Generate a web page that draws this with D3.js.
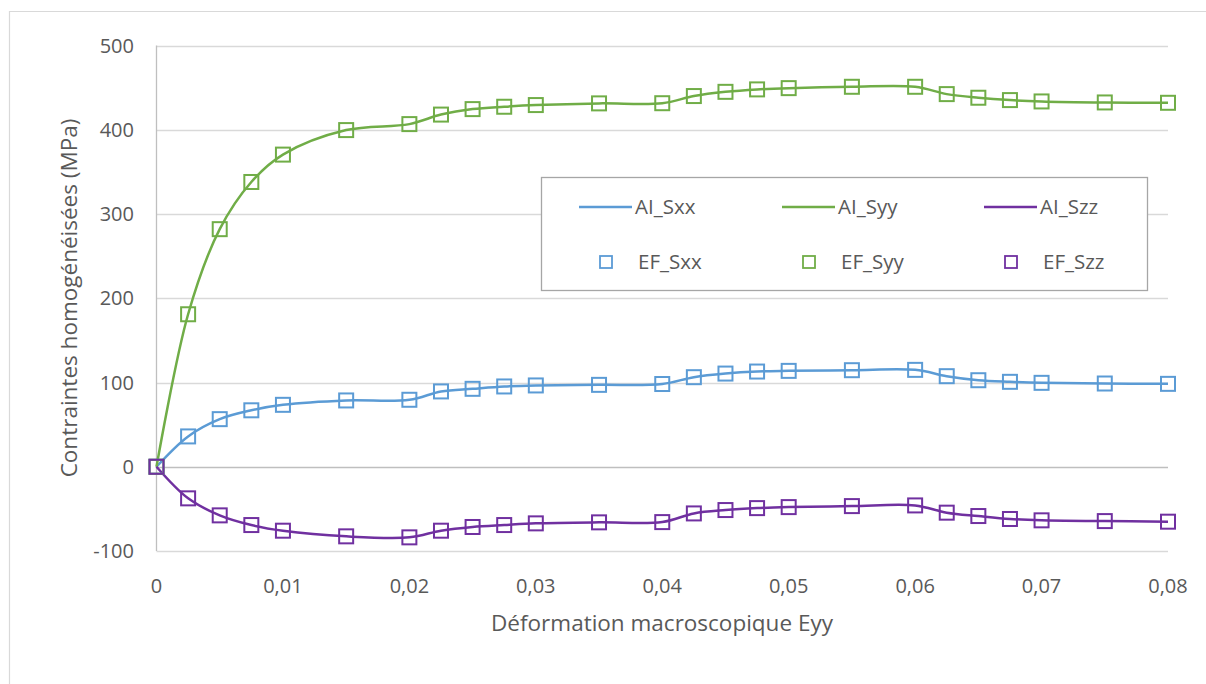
<!DOCTYPE html>
<html><head><meta charset="utf-8">
<script src="https://cdn.jsdelivr.net/npm/d3@7"></script>
<style>
html,body{margin:0;padding:0;background:#fff;}
text{font-family:"Open Sans","Lato",sans-serif;fill:#595959;}
</style></head>
<body><svg id="c" width="1206" height="684"></svg>
<script>
const strain = [0,0.0025,0.005,0.0075,0.01,0.015,0.02,0.0225,0.025,0.0275,0.03,0.035,0.04,0.0425,0.045,0.0475,0.05,0.055,0.06,0.0625,0.065,0.0675,0.07,0.075,0.08];
const Sxx = [0,36,56.5,67,73.5,78.7,79.5,89.4,92.5,95.3,96.5,97.2,98.2,106.3,110.6,113,113.8,114.6,115,107.5,102.7,100.8,99.6,98.8,98.4];
const Syy = [0,181,282,338,370.5,399.6,406.7,418,424.5,427.3,429.3,431.3,431.5,440,445,447.9,449.4,451,451,442.3,438,435.2,433.6,432.4,432];
const Szz = [0,-37.5,-57.7,-69.2,-75.9,-82.6,-83.8,-75.9,-71.5,-69.2,-67.2,-66,-65.7,-55.4,-51.4,-49.1,-47.9,-46.7,-45.9,-54.5,-58.5,-62,-63.6,-64.5,-65.2];
const xTicks = [0,0.01,0.02,0.03,0.04,0.05,0.06,0.07,0.08];
const yTicks = [-100,0,100,200,300,400,500];
const seriesNames = ["Sxx","Syy","Szz"];
const colors = ["#5b9bd5","#70ad47","#7030a0"];
const xLabel = "Déformation macroscopique Eyy";
const yLabel = "Contraintes homogénéisées (MPa)";

const svg = d3.select("#c");
svg.append("path").attr("d","M9.5,684 V11.5 H1206").attr("fill","none").attr("stroke","#d9d9d9").attr("stroke-width",1.2);

const x = d3.scaleLinear().domain([0,0.08]).range([156.5,1168]);
const y = d3.scaleLinear().domain([-100,500]).range([551,45.5]);

svg.append("g").selectAll("line").data(yTicks).join("line")
  .attr("x1",x(0)).attr("x2",x(0.08)).attr("y1",d=>Math.round(y(d))+0.5).attr("y2",d=>Math.round(y(d))+0.5)
  .attr("stroke",d=>d===0?"#bfbfbf":"#d9d9d9").attr("stroke-width",1.3);
svg.append("line").attr("x1",x(0)).attr("x2",x(0)).attr("y1",y(500)).attr("y2",y(-100)).attr("stroke","#bfbfbf").attr("stroke-width",1.3);

const fmtX = d=> d===0?"0":d3.format(".2f")(d).replace(".",",");
svg.append("g").selectAll("text").data(yTicks).join("text")
  .attr("x",134).attr("y",d=>y(d)).attr("dy","0.35em").attr("text-anchor","end")
  .attr("font-size",20).text(d=>d);
svg.append("g").selectAll("text").data(xTicks).join("text")
  .attr("x",d=>x(d)).attr("y",586).attr("dy","0.35em").attr("text-anchor","middle")
  .attr("font-size",20).text(fmtX);

svg.append("text").attr("x",662).attr("y",623).attr("dy","0.35em").attr("text-anchor","middle").attr("font-size",22.5).text(xLabel);
svg.append("text").attr("transform","translate(69,298) rotate(-90)").attr("dy","0.35em").attr("text-anchor","middle").attr("font-size",22.5).text(yLabel);

const data = [Sxx,Syy,Szz];
const line = d3.line().x((d,i)=>x(strain[i])).y(d=>y(d)).curve(d3.curveCatmullRom.alpha(0.5));
data.forEach((vals,k)=>{
  svg.append("path").datum(vals).attr("d",line).attr("fill","none").attr("stroke",colors[k]).attr("stroke-width",2.5);
});
data.forEach((vals,k)=>{
  svg.append("g").selectAll("rect").data(vals).join("rect")
    .attr("x",(d,i)=>x(strain[i])-7).attr("y",d=>y(d)-7).attr("width",14).attr("height",14)
    .attr("fill","none").attr("stroke",colors[k]).attr("stroke-width",2);
});

const lg = svg.append("g");
lg.append("rect").attr("x",541.5).attr("y",177.5).attr("width",606).attr("height",113).attr("fill","#fff").attr("stroke","#a6a6a6").attr("stroke-width",1.3);
const colX = [579,782,984];
seriesNames.forEach((n,k)=>{
  lg.append("line").attr("x1",colX[k]).attr("x2",colX[k]+53).attr("y1",207).attr("y2",207).attr("stroke",colors[k]).attr("stroke-width",2.5);
  lg.append("text").attr("x",colX[k]+56).attr("y",207).attr("dy","0.35em").attr("font-size",20.5).text("AI_"+n);
  lg.append("rect").attr("x",colX[k]+21).attr("y",256).attr("width",12).attr("height",12).attr("fill","none").attr("stroke",colors[k]).attr("stroke-width",1.8);
  lg.append("text").attr("x",colX[k]+59).attr("y",262).attr("dy","0.35em").attr("font-size",20.5).text("EF_"+n);
});
</script></body></html>
